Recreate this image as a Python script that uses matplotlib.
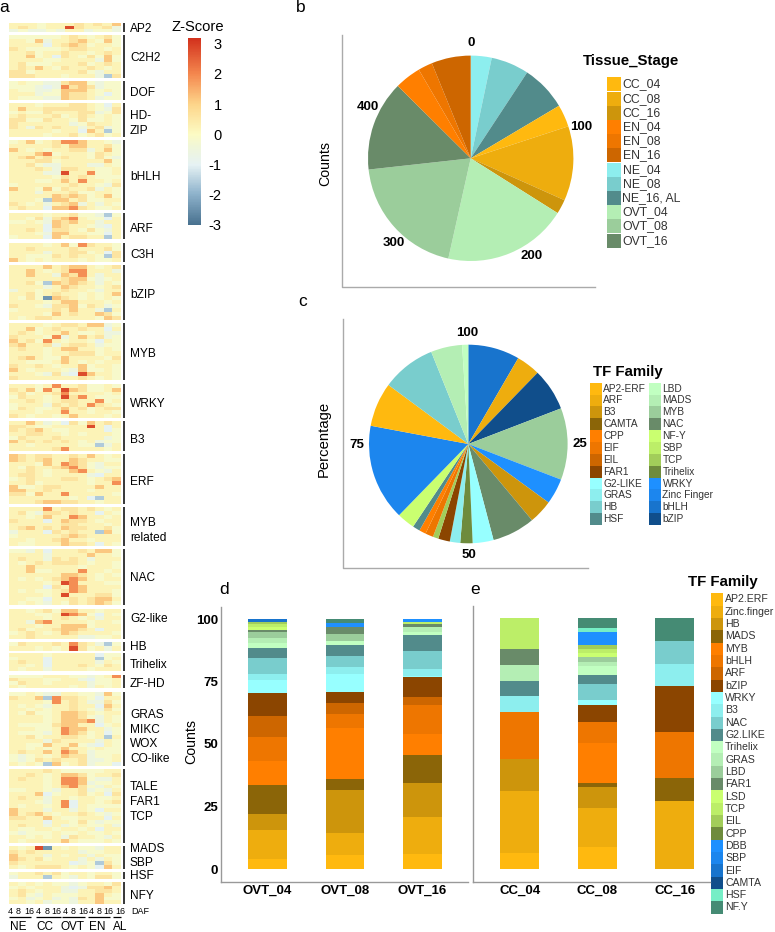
import numpy as np
import matplotlib
matplotlib.use('Agg')
import matplotlib.pyplot as plt
from matplotlib.colors import LinearSegmentedColormap, Normalize
from matplotlib.cm import ScalarMappable
from matplotlib.patches import Rectangle

plt.rcParams['font.family'] = ['Liberation Sans', 'DejaVu Sans']

W, H = 775, 932

## palette
gold = ['#FFB90F', '#EEAD0E', '#CD950C', '#8B6508']
orange = ['#FF7F00', '#EE7600', '#CD6600', '#8B4500']
slate = ['#97FFFF', '#8DEEEE', '#79CDCD', '#528B8B']
sea = ['#C1FFC1', '#B4EEB4', '#9BCD9B', '#698B69']
olive = ['#CAFF70', '#BCEE68', '#A2CD5A', '#6E8B3D']
dodger = ['#1E90FF', '#1C86EE', '#1874CD', '#104E8B']

## panel a, one string per row, columns NE CC OVT EN AL
# digit = colour level read by eye, see heat_levels
heat_levels = [-2.4, -1.6, -0.95, -0.55, -0.15, 0.2, 0.6, 1.15, 1.9, 2.8]
heat_ap2 = ['555 455 565 657', '565 455 965 563', '343 343 553 443']
heat_c2h2 = ['444 444 565 456 4', '554 735 567 547 4', '555 525 676 455 4', '654 444 566 554 5',
             '556 455 655 456 5', '557 452 654 647 4', '555 544 555 537 4', '564 445 556 456 5',
             '565 754 655 654 5', '664 555 556 435 5', '666 555 455 531 6']
heat_dof = ['454 433 677 434 4', '444 323 867 634 4', '544 334 777 545 4', '555 344 766 542 4', '544 433 766 534 4']
heat_hdzip = ['555 455 566 542 5', '575 566 666 543 6', '454 465 556 634 6', '565 556 456 545 4',
              '664 465 546 445 4', '655 555 534 655 4', '653 656 553 563 4', '555 554 552 751 4',
              '555 545 564 564 5']
heat_bhlh = ['457 456 887 554 3', '555 556 577 556 4', '754 545 566 357 4', '555 784 555 465 4',
             '567 565 655 464 3', '555 664 555 557 4', '556 433 555 335 4', '555 653 665 544 5',
             '555 533 955 844 5', '555 554 656 544 4', '555 445 758 554 5', '455 555 565 543 6',
             '755 474 655 635 4', '555 355 564 455 4', '555 557 676 457 4', '555 417 756 445 5',
             '654 535 673 535 4', '565 527 786 544 5']
heat_arf = ['555 545 564 431 4', '554 636 785 442 5', '445 437 675 535 5', '555 527 655 432 5',
            '556 526 654 643 5', '555 437 755 442 5', '455 527 566 551 5']
heat_c3h = ['555 545 748 655 4', '556 555 565 556 4', '555 535 566 452 6', '554 446 565 541 6', '754 545 554 544 5']
heat_bzip = ['555 575 677 545 6', '557 545 688 555 3', '557 553 768 535 5', '555 555 677 434 5',
             '556 417 676 535 4', '555 535 765 545 6', '355 455 655 435 5', '556 456 554 545 7',
             '546 407 654 545 4', '555 545 775 554 5', '655 436 674 653 4', '455 556 575 531 5',
             '555 547 565 576 4', '545 665 555 547 6']
heat_myb = ['555 545 665 773 4', '557 456 556 552 5', '565 455 754 453 3', '655 548 357 563 4',
            '756 485 455 425 4', '675 563 566 534 4', '565 545 775 545 4', '555 545 566 645 5',
            '567 544 755 554 6', '554 445 754 545 5', '655 654 557 455 4', '754 555 437 445 4',
            '555 436 329 755 4', '655 555 556 545 4']
heat_wrky = ['555 458 556 445 4', '657 485 976 445 7', '564 556 855 554 5', '465 545 968 544 4',
             '556 545 665 584 5', '455 536 565 865 4', '465 445 756 456 6', '555 455 855 455 4',
             '654 554 575 554 5']
heat_b3 = ['557 534 264 756 5', '665 445 555 952 5', '656 754 455 552 4', '556 655 454 555 4',
           '465 556 555 553 4', '756 565 654 534 4', '554 555 554 413 5', '555 556 855 554 5']
heat_erf = ['765 665 565 754 5', '765 675 576 554 4', '555 475 876 435 5', '546 556 786 434 4',
            '556 545 578 543 5', '566 545 555 325 5', '456 555 665 456 7', '556 455 555 455 8',
            '744 566 555 575 5', '775 565 555 455 5', '664 755 855 555 4', '555 555 545 215 5',
            '555 677 665 545 5']
heat_mybrel = ['555 585 665 654 5', '564 366 565 525 4', '554 575 587 554 5', '655 525 766 545 5',
               '555 555 665 554 5', '567 565 766 556 4', '355 526 565 517 4', '455 555 676 555 5',
               '554 556 755 455 5', '544 555 766 525 4']
heat_nac = ['443 525 556 577 4', '555 535 555 755 4', '565 536 565 355 5', '545 656 665 455 4',
            '557 555 554 555 4', '557 445 558 554 5', '555 555 776 545 4', '545 456 787 545 5',
            '555 545 985 554 4', '555 526 587 555 5', '545 445 687 555 4', '555 545 955 566 4',
            '554 425 565 677 5', '545 435 465 676 4']
heat_g2 = ['554 564 775 545 5', '555 445 987 425 4', '555 545 654 535 5', '553 785 555 455 4',
           '555 455 777 455 5', '564 556 776 525 5', '456 545 765 555 4', '556 555 553 344 5']
heat_hb = ['465 556 586 531 4', '555 454 596 453 5']
heat_trihelix = ['555 545 555 524 4', '455 525 555 514 5', '565 525 555 535 4', '554 525 556 546 5', '545 535 555 455 5']
heat_zfhd = ['444 455 544 345 8', '655 544 553 244 5', '465 545 555 344 5', '545 555 545 354 5']
heat_gras = ['445 433 554 437 4', '655 718 665 425 5', '555 548 565 336 4', '545 435 565 527 5',
             '554 545 565 436 4', '546 445 776 545 5', '555 545 776 435 4', '555 545 777 835 4',
             '544 446 775 524 5', '555 445 877 553 4', '544 435 876 452 4', '556 455 665 451 5',
             '555 536 555 535 4', '554 475 574 325 4', '554 545 755 454 4', '565 575 875 344 4',
             '434 545 766 344 5', '434 656 556 334 5', '545 417 456 344 2']
heat_tale = ['555 565 444 445 5', '556 545 776 455 6', '565 545 887 433 5', '555 545 887 344 5',
             '555 545 786 435 4', '445 543 556 343 5', '555 724 556 452 6', '565 535 545 544 5',
             '555 435 825 545 6', '545 545 825 444 4', '755 535 535 425 5', '756 754 556 543 4',
             '665 575 445 552 5', '555 525 546 434 4', '565 535 345 445 3', '544 554 554 525 5',
             '434 445 445 445 4', '554 545 365 543 5', '545 555 754 445 4']
heat_mads = ['545 905 454 435 5', '656 555 553 445 5', '755 535 455 354 4', '765 645 553 535 4',
             '655 555 523 416 4', '545 666 545 427 5']
heat_hsf = ['455 656 455 455 4', '355 515 435 466 4']
heat_nfy = ['545 454 434 554 6', '454 555 323 667 5', '565 455 335 566 5', '564 354 445 575 4',
            '453 453 436 574 4', '554 534 435 575 5']

heat_groups = [heat_ap2, heat_c2h2, heat_dof, heat_hdzip, heat_bhlh, heat_arf, heat_c3h, heat_bzip,
               heat_myb, heat_wrky, heat_b3, heat_erf, heat_mybrel, heat_nac, heat_g2, heat_hb,
               heat_trihelix, heat_zfhd, heat_gras, heat_tale, heat_mads, heat_hsf, heat_nfy]
group_spans = [(23, 32), (35, 78), (81, 100), (103, 137), (140, 210), (213, 239), (243, 262), (265, 320),
               (323, 380), (384, 418), (421, 451), (454, 504), (507, 546), (549, 605), (609, 639), (642, 651),
               (653, 671), (675, 688), (692, 766), (769, 843), (846, 869), (872, 879), (882, 904)]
group_labels = [('AP2', 29), ('C2H2', 58), ('DOF', 93), ('HD-', 116), ('ZIP', 131), ('bHLH', 177), ('ARF', 229),
                ('C3H', 255), ('bZIP', 295), ('MYB', 354), ('WRKY', 404), ('B3', 440), ('ERF', 482), ('MYB', 523),
                ('related', 538), ('NAC', 578), ('G2-like', 619), ('HB', 647), ('Trihelix', 665), ('ZF-HD', 684),
                ('GRAS', 715), ('MIKC', 730), ('WOX', 744), ('CO-like', 759), ('TALE', 787), ('FAR1', 802),
                ('TCP', 817), ('MADS', 849), ('SBP', 863), ('HSF', 876), ('NFY', 896)]
daf_labels = ['4', '8', '16'] * 4 + ['16']
daf_x = [10.7, 18.3, 29, 38, 46.7, 56, 65, 73, 83, 91.7, 99.3, 108, 120]

## panel b
stages = ['NE_04', 'NE_08', 'NE_16, AL', 'CC_04', 'CC_08', 'CC_16', 'OVT_04', 'OVT_08', 'OVT_16', 'EN_04', 'EN_08', 'EN_16']
stage_counts = [16, 29, 35, 17, 57, 11, 95, 96, 69, 20, 11, 30]
stage_colors = [slate[1], slate[2], slate[3], gold[0], gold[1], gold[2], sea[1], sea[2], sea[3], orange[0], orange[1], orange[2]]
stage_legend = ['CC_04', 'CC_08', 'CC_16', 'EN_04', 'EN_08', 'EN_16', 'NE_04', 'NE_08', 'NE_16, AL', 'OVT_04', 'OVT_08', 'OVT_16']
count_ticks = [0, 100, 200, 300, 400]

## panel c
fam_c_1 = ['AP2-ERF', 'ARF', 'B3', 'CAMTA', 'CPP', 'EIF', 'EIL', 'FAR1', 'G2-LIKE', 'GRAS', 'HB', 'HSF']
fam_c_2 = ['LBD', 'MADS', 'MYB', 'NAC', 'NF-Y', 'SBP', 'TCP', 'Trihelix', 'WRKY', 'Zinc Finger', 'bHLH', 'bZIP']
fam_c_colors = gold + orange + slate + sea + olive + dodger
pie_c_names = ['bHLH', 'ARF', 'bZIP', 'MYB', 'WRKY', 'B3', 'NAC', 'G2-LIKE', 'Trihelix', 'GRAS', 'FAR1', 'TCP',
               'EIF', 'CPP', 'HSF', 'NF-Y', 'Zinc Finger', 'AP2-ERF', 'HB', 'MADS', 'LBD']
pie_c_pct = [8.4, 3.9, 6.9, 11.7, 4.2, 3.9, 7.0, 3.4, 2.0, 1.7, 1.9, 0.9, 1.3, 1.1, 1.2, 2.9, 15.7, 7.2, 8.8, 5.1, 1.0]
pct_ticks = [25, 50, 75, 100]

## panels d and e
fam_e = ['AP2.ERF', 'Zinc.finger', 'HB', 'MADS', 'MYB', 'bHLH', 'ARF', 'bZIP', 'WRKY', 'B3', 'NAC', 'G2.LIKE',
         'Trihelix', 'GRAS', 'LBD', 'FAR1', 'LSD', 'TCP', 'EIL', 'CPP', 'DBB', 'SBP', 'EIF', 'CAMTA', 'HSF', 'NF.Y']
fam_e_colors = gold + orange + slate + sea + olive + dodger + ['#76EEC6', '#458B74']
ovt_04 = [4.1, 11.6, 6.3, 11.6, 9.6, 9.5, 8.4, 9.3, 5.2, 2.4, 6.3, 4.1, 2.1, 2.1, 2.3, 0.9, 1.1, 1.0, 0.9, 0, 0, 0, 1.2, 0, 0, 0]
ovt_08 = [5.6, 8.8, 17.4, 4.1, 20.5, 5.7, 4.5, 4.1, 7.3, 2.8, 4.4, 4.3, 1.7, 0, 2.8, 2.7, 0, 0, 0, 0, 1.6, 0, 0, 0, 0, 1.6]
ovt_16 = [6.1, 14.6, 13.6, 11.2, 8.5, 11.6, 3.1, 8.1, 0.3, 3.1, 7.2, 6.3, 1.1, 2.0, 0, 1.2, 0, 0.9, 0, 0, 1.0, 0, 0, 0, 0, 0]
cc_04 = [6.25, 25, 12.5, 0, 0, 18.75, 0, 0, 0, 6.25, 0, 6.25, 0, 6.25, 0, 6.25, 0, 12.5, 0, 0, 0, 0, 0, 0, 0, 0]
cc_08 = [8.8, 15.4, 8.4, 1.7, 15.7, 8.5, 0, 6.9, 1.9, 0, 6.6, 3.5, 3.5, 1.7, 1.7, 0, 1.8, 1.7, 1.5, 0, 5.2, 0, 0, 0, 1.7, 3.7]
cc_16 = [0, 27.27, 0, 9.09, 0, 18.18, 0, 18.18, 0, 9.09, 9.09, 0, 0, 0, 0, 0, 0, 0, 0, 0, 0, 0, 0, 0, 0, 9.09]
ovt_names = ['OVT_04', 'OVT_08', 'OVT_16']
cc_names = ['CC_04', 'CC_08', 'CC_16']


def px_axes(x0, y0, x1, y1, **kw):
    # axes from pixel box, y measured from the top
    return fig.add_axes([x0 / W, 1 - y1 / H, (x1 - x0) / W, (y1 - y0) / H], **kw)


fig = plt.figure(figsize=(W / 100, H / 100), dpi=100)
page = px_axes(0, 0, W, H)
page.patch.set_alpha(0)

zcolors = [(0.0, '#48718f'), (0.167, '#8fb3cc'), (0.32, '#e6f2f4'), (0.42, '#f0f6d8'), (0.484, '#fcfbc4'),
           (0.645, '#fdd58a'), (0.806, '#f4884f'), (1.0, '#d2301c')]
zcmap = LinearSegmentedColormap.from_list('zscore', zcolors)
znorm = Normalize(-3, 3.2)

# heatmap groups
hx0, hx1 = 8.5, 120
for rows, (y0, y1) in zip(heat_groups, group_spans):
    arr = np.array([[heat_levels[int(c)] for c in r.replace(' ', '')] for r in rows])
    page.imshow(arr, extent=[hx0, hx1, y1, y0], aspect='auto', cmap=zcmap, norm=znorm, interpolation='nearest')
    page.plot([124.3, 124.3], [y0, y1], color='k', lw=1.1, solid_capstyle='butt')
for lab, y in group_labels:
    page.text(130, y, lab, fontsize=8.6, va='center', ha='left')

# column labels under the heatmap
for lab, x in zip(daf_labels, daf_x):
    page.text(x, 911, lab, fontsize=6.4, ha='center', va='center')
page.text(131, 911, 'DAF', fontsize=6.5, va='center')
for lab, xa, xb, xt in [('NE', 9, 30.7, 18.3), ('CC', 36, 60.7, 45), ('OVT', 62, 85, 72.7), ('EN', 88, 110, 97.7), ('AL', 113, 120.7, 120)]:
    page.plot([xa, xb], [917, 917], color='k', lw=0.9, solid_capstyle='butt')
    page.text(xt, 927, lab, fontsize=8.5, ha='center', va='center')

# axis frames of the pies
frame = '#aaaaaa'
page.plot([341.7, 341.7, 595], [35, 287, 287], color=frame, lw=1.0)
page.plot([343.3, 343.3, 588], [319, 568, 568], color=frame, lw=1.0)
page.text(325, 164, 'Counts', rotation=90, fontsize=10.2, ha='center', va='center')
page.text(324, 439, 'Percentage', rotation=90, fontsize=10.7, ha='center', va='center')
page.text(191, 742, 'Counts', rotation=90, fontsize=10.2, ha='center', va='center')

for lab, x, y in [('a', 4, 7), ('b', 301, 8), ('c', 303, 302), ('d', 224, 589), ('e', 475, 589)]:
    page.text(x, y, lab, fontsize=12.5, ha='center', va='center')


def swatches(x0, x1, y0, rowh, names, colors, fs, xtext):
    for i, (n, c) in enumerate(zip(names, colors)):
        page.add_patch(Rectangle((x0, y0 + i * rowh), x1 - x0, rowh, fc=c, ec='none'))
        page.text(xtext, y0 + (i + 0.5) * rowh, n, fontsize=fs, color='#333333', va='center', ha='left')


page.text(583, 61, 'Tissue_Stage', fontsize=10.8, fontweight='bold', va='center')
legend_b_colors = gold[:3] + orange[:3] + slate[1:] + sea[1:]
swatches(606.7, 621, 77.3, 14.2, stage_legend, legend_b_colors, 8.8, 622.5)
page.text(593, 371.7, 'TF Family', fontsize=10.8, fontweight='bold', va='center')
swatches(590, 601.7, 382.7, 11.86, fam_c_1, fam_c_colors[:12], 7.3, 603)
swatches(649.3, 661, 382.7, 11.86, fam_c_2, fam_c_colors[12:], 7.3, 662.5)
page.text(688, 582, 'TF Family', fontsize=10.8, fontweight='bold', va='center')
swatches(711, 723.3, 593.3, 12.32, fam_e, fam_e_colors, 7.6, 725)

page.set_xlim(0, W)
page.set_ylim(H, 0)
page.axis('off')

# colorbar
page.text(197.5, 27, 'Z-Score', fontsize=10.6, ha='center', va='center')
cax = px_axes(187.7, 37.7, 200.7, 225)
cb = fig.colorbar(ScalarMappable(norm=znorm, cmap=zcmap), cax=cax)
cb.outline.set_visible(False)
cb.set_ticks([-3, -2, -1, 0, 1, 2, 3])
cb.set_ticklabels(['-3', '-2', '-1', '0', '1', '2', '3'], fontsize=10.5)
cb.ax.tick_params(length=0, pad=15)
for t in cb.ax.get_yticklabels():
    t.set_ha('right')


def pie_panel(cx, cy, r, vals, cols, ticks, total):
    ax = px_axes(cx - r, cy - r, cx + r, cy + r)
    ax.pie(vals, colors=cols, startangle=90, counterclock=False, radius=1.0,
           wedgeprops={'linewidth': 0})
    ax.set_xlim(-1, 1)
    ax.set_ylim(-1, 1)
    for t in ticks:
        a = 2 * np.pi * t / total
        ax.text(1.12 * np.sin(a), 1.12 * np.cos(a), str(t), fontsize=9.5, fontweight='bold',
                ha='center', va='center', clip_on=False)


pie_panel(470.7, 158.3, 102.7, stage_counts, stage_colors, count_ticks, sum(stage_counts))
cmap_c = dict(zip(fam_c_1 + fam_c_2, fam_c_colors))
pie_panel(468.3, 444, 99.3, pie_c_pct, [cmap_c[n] for n in pie_c_names], pct_ticks, sum(pie_c_pct))


def stacked(box, xlim, names, series, yticks):
    ax = px_axes(*box)
    bottom = np.zeros(len(names))
    for i, c in enumerate(fam_e_colors):
        vals = np.array([s[i] for s in series])
        ax.bar(range(len(names)), vals, width=0.5, bottom=bottom, color=c, linewidth=0)
        bottom += vals
    ax.set_xlim(*xlim)
    ax.set_ylim(-5.2, 104.8)
    ax.set_xticks(range(len(names)))
    ax.set_xticklabels(names, fontsize=9.5, fontweight='bold')
    ax.set_yticks(yticks)
    ax.set_yticklabels([str(v) for v in yticks], fontsize=9.5, fontweight='bold')
    ax.tick_params(length=0, pad=2)
    ax.patch.set_alpha(0)
    for s in ['top', 'right']:
        ax.spines[s].set_visible(False)
    for s in ['left', 'bottom']:
        ax.spines[s].set_color('#999999')
        ax.spines[s].set_linewidth(1.0)
    return ax


stacked((220.7, 607, 468, 882), (-0.604, 2.587), ovt_names, [ovt_04, ovt_08, ovt_16], [0, 25, 50, 75, 100])
stacked((473.3, 606, 710, 882), (-0.6, 2.454), cc_names, [cc_04, cc_08, cc_16], [])

fig.savefig('out.png', dpi=100)
